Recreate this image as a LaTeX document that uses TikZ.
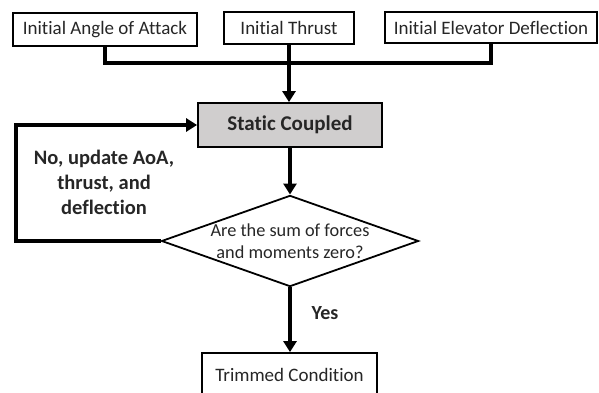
\documentclass[tikz,border=0pt]{standalone}
\usepackage{fontspec}
\setmainfont{Carlito}[Ligatures=NoCommon]
\usetikzlibrary{arrows.meta,shapes.geometric}
\definecolor{txt}{HTML}{262626}
\definecolor{greyfill}{HTML}{D0CECE}
\tikzset{
  box/.style={draw=black, line width=1.8pt, rectangle, inner sep=0pt, text=txt,
    font=\fontsize{19}{22}\selectfont},
  conn/.style={line width=3.6pt, draw=black},
  arr/.style={conn, -{Triangle[length=11pt,width=13pt]}},
  lbl/.style={text=txt, font=\fontsize{20.5}{25}\selectfont\bfseries, align=center},
}
\begin{document}
\begin{tikzpicture}[x=1pt,y=-1pt]
\useasboundingbox (0,0) rectangle (599,393);
\clip (0,0) rectangle (599,393);
\node[box, minimum width=184pt, minimum height=33pt] (b1) at (105,29.5) {Initial Angle of Attack};
\node[box, minimum width=130pt, minimum height=32pt] (b2) at (289,28) {Initial Thrust};
\node[box, minimum width=212pt, minimum height=31pt] (b3) at (491,27.5) {Initial Elevator Deflection};
\node[box, fill=greyfill, minimum width=184pt, minimum height=44pt, font=\fontsize{21}{22}\selectfont\bfseries] (sc) at (290,125) {Static Coupled};
\node[draw=black, line width=1.8pt, diamond, aspect=2.82, minimum width=254pt, minimum height=90pt, inner sep=0pt,
  text=txt, align=center, font=\fontsize{18.3}{22}\selectfont] (dia) at (290,241) {Are the sum of forces\\and moments zero?};
\node[box, minimum width=175pt, minimum height=44pt] (tc) at (289.5,375) {Trimmed Condition};
\node[lbl] (no) at (104,182) {No, update AoA,\\thrust, and\\deflection};
\node[lbl, font=\fontsize{20}{22}\selectfont\bfseries] (yes) at (325,313) {Yes};
\coordinate (j) at (289,63);
\coordinate (fb) at (16,241);
\draw[conn] (b1.south) |- (j);
\draw[conn] (b3.south) |- (j);
\draw[arr] (b2.south) -- (b2.south |- sc.north);
\draw[arr] (sc.south) -- (sc.south |- dia.north);
\draw[arr] (dia.south) -- (dia.south |- tc.north);
\draw[arr] (dia.west) -- (fb) |- (sc.west);
\end{tikzpicture}
\end{document}
